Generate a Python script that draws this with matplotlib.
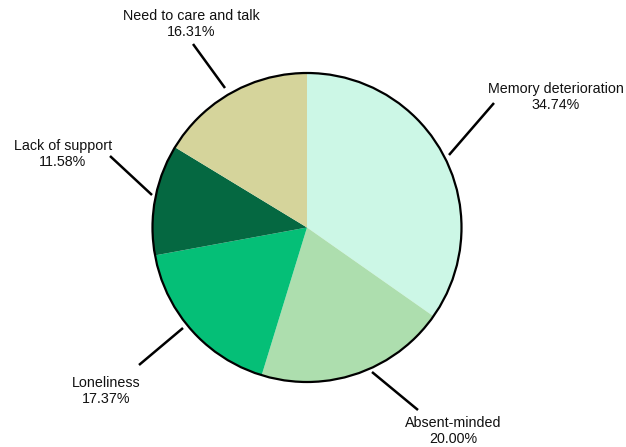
import matplotlib.pyplot as plt
from matplotlib.patches import Circle

plt.rcParams['font.family'] = ['Liberation Sans', 'DejaVu Sans']

# data
categories = ["Memory deterioration", "Absent-minded", "Loneliness",
              "Lack of support", "Need to care and talk"]
shares = [34.74, 20.00, 17.37, 11.58, 16.31]
colors = ["#ccf7e6", "#addeae", "#05bf77", "#056841", "#d5d49b"]

# layout, in pixels (y down) of a 626x447 canvas
W, H = 626, 447
cx, cy, R = 307, 227.5, 154.5
label_pos = [(556, 97), (453, 431), (106, 391), (63, 154), (191, 24)]
leaders = [((449, 155), (494, 103)),
           ((372, 372), (418, 410)),
           ((183, 328), (139, 365)),
           ((152, 195), (110, 156)),
           ((225, 88), (193, 44))]

fig = plt.figure(figsize=(W / 100, H / 100), dpi=100)
ax = fig.add_axes([0, 0, 1, 1])

ax.pie(shares, colors=colors, startangle=90, counterclock=False,
       radius=R, center=(cx, H - cy), wedgeprops=dict(linewidth=0))
ax.add_patch(Circle((cx, H - cy), R, fill=False, edgecolor='black', linewidth=1.6))

for name, val, (tx, ty), ((x0, y0), (x1, y1)) in zip(categories, shares, label_pos, leaders):
    ax.plot([x0, x1], [H - y0, H - y1], color='black', linewidth=1.8,
            solid_capstyle='butt')
    ax.text(tx, H - ty, f"{name}\n{val:.2f}%", ha='center', va='center',
            fontsize=10.3, color='#111111', linespacing=1.25)

ax.set_xlim(0, W)
ax.set_ylim(0, H)
ax.set_aspect('equal')
ax.axis('off')

fig.savefig('out.png', dpi=100, facecolor='white')
